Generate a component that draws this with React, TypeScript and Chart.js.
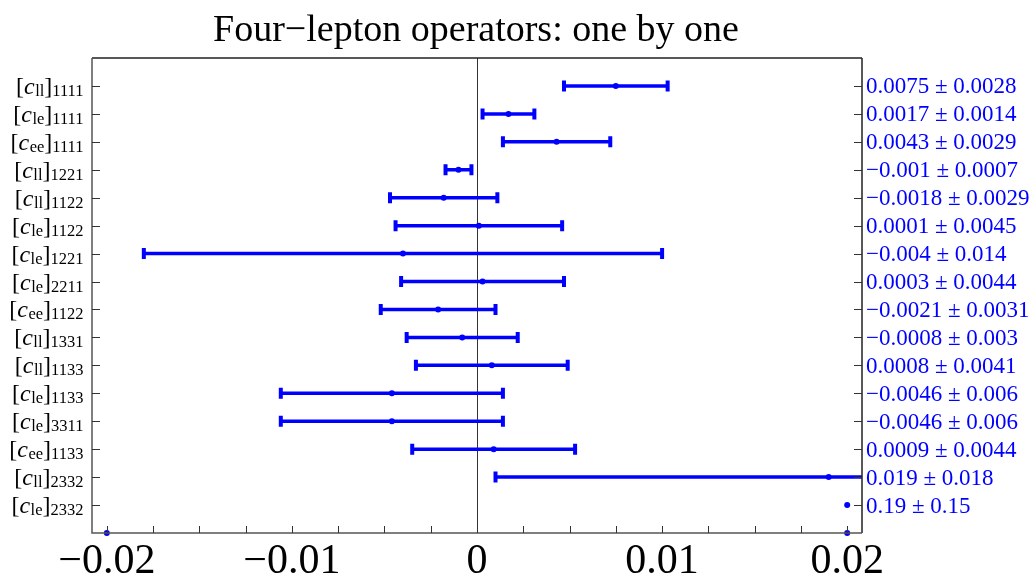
import { useEffect, useRef } from 'react';
import { Chart, registerables } from 'chart.js';

Chart.register(...registerables);

const operatorTypes = ['ll', 'le', 'ee', 'll', 'll', 'le', 'le', 'le', 'ee', 'll', 'll', 'le', 'le', 'ee', 'll', 'le'];
const flavourIndices = ['1111', '1111', '1111', '1221', '1122', '1122', '1221', '2211', '1122', '1331', '1133', '1133', '3311', '1133', '2332', '2332'];
const centralValues = [0.0075, 0.0017, 0.0043, -0.001, -0.0018, 0.0001, -0.004, 0.0003, -0.0021, -0.0008, 0.0008, -0.0046, -0.0046, 0.0009, 0.019, 0.19];
const uncertainties = [0.0028, 0.0014, 0.0029, 0.0007, 0.0029, 0.0045, 0.014, 0.0044, 0.0031, 0.003, 0.0041, 0.006, 0.006, 0.0044, 0.018, 0.15];
// marker positions as drawn in the reference (the off-scale 0.19 point sits at 0.02)
const plottedCenters = [0.0075, 0.0017, 0.0043, -0.001, -0.0018, 0.0001, -0.004, 0.0003, -0.0021, -0.0008, 0.0008, -0.0046, -0.0046, 0.0009, 0.019, 0.02];
const axisMarkers = [-0.02, 0.02];
const xTickValues = [-0.02, -0.01, 0, 0.01, 0.02];
const xTickLabels = ['\u22120.02', '\u22120.01', '0', '0.01', '0.02'];
const minorTickValues = [-0.02, -0.0175, -0.015, -0.0125, -0.01, -0.0075, -0.005, -0.0025, 0, 0.0025, 0.005, 0.0075, 0.01, 0.0125, 0.015, 0.0175, 0.02];
const titleText = 'Four\u2212lepton operators: one by one';

const X_MIN = -0.0208;
const X_MAX = 0.0208;
const SERIF = '"Liberation Serif", "DejaVu Serif", serif';
const BLUE = '#0000ff';

function fmt(v: number): string {
  return String(v).replace('-', '\u2212');
}

const customPlugin = {
  id: 'customDraw',
  beforeDatasetsDraw(chart: any) {
    const { ctx, chartArea: a, scales } = chart;
    const x = scales.x;
    const y = scales.y;
    ctx.save();
    // zero line
    const x0 = Math.round(x.getPixelForValue(0)) + 0.5;
    ctx.strokeStyle = '#333333';
    ctx.lineWidth = 1;
    ctx.beginPath();
    ctx.moveTo(x0, a.top);
    ctx.lineTo(x0, a.bottom);
    ctx.stroke();
    // error bars
    ctx.beginPath();
    ctx.rect(a.left, a.top, a.right - a.left, a.bottom - a.top);
    ctx.clip();
    ctx.strokeStyle = BLUE;
    centralValues.forEach((c, i) => {
      const yy = y.getPixelForValue(i + 1);
      const xl = x.getPixelForValue(c - uncertainties[i]);
      const xr = x.getPixelForValue(c + uncertainties[i]);
      ctx.lineWidth = 3.5;
      ctx.beginPath();
      ctx.moveTo(xl, yy);
      ctx.lineTo(xr, yy);
      ctx.stroke();
      ctx.lineWidth = 4;
      ctx.beginPath();
      ctx.moveTo(xl, yy - 5.5);
      ctx.lineTo(xl, yy + 5.5);
      ctx.moveTo(xr, yy - 5.5);
      ctx.lineTo(xr, yy + 5.5);
      ctx.stroke();
    });
    ctx.restore();
  },
  afterDraw(chart: any) {
    const { ctx, chartArea: a, scales } = chart;
    const x = scales.x;
    const y = scales.y;
    ctx.save();
    // frame
    ctx.lineWidth = 1.5;
    ctx.strokeStyle = '#222222';
    ctx.beginPath();
    ctx.moveTo(a.left, a.top);
    ctx.lineTo(a.right, a.top);
    ctx.moveTo(a.right, a.top);
    ctx.lineTo(a.right, a.bottom);
    ctx.stroke();
    ctx.strokeStyle = '#555555';
    ctx.beginPath();
    ctx.moveTo(a.left, a.top);
    ctx.lineTo(a.left, a.bottom);
    ctx.lineTo(a.right, a.bottom);
    ctx.stroke();
    // ticks
    ctx.lineWidth = 1;
    ctx.strokeStyle = '#333333';
    ctx.beginPath();
    minorTickValues.forEach((v) => {
      const px = Math.round(x.getPixelForValue(v)) + 0.5;
      ctx.moveTo(px, a.bottom);
      ctx.lineTo(px, a.bottom - 7);
    });
    centralValues.forEach((_, i) => {
      const py = Math.round(y.getPixelForValue(i + 1)) + 0.5;
      ctx.moveTo(a.left, py);
      ctx.lineTo(a.left + 8, py);
      ctx.moveTo(a.right, py);
      ctx.lineTo(a.right - 8, py);
    });
    ctx.stroke();

    // x tick labels
    ctx.fillStyle = '#000000';
    ctx.font = `42px ${SERIF}`;
    ctx.textAlign = 'center';
    ctx.textBaseline = 'alphabetic';
    xTickValues.forEach((v, i) => {
      ctx.fillText(xTickLabels[i], x.getPixelForValue(v), 573);
    });

    // left labels
    const mainFont = `24px ${SERIF}`;
    const italicFont = `italic 24px ${SERIF}`;
    const subFont = `16.5px ${SERIF}`;
    ctx.textAlign = 'left';
    operatorTypes.forEach((op, i) => {
      const base = y.getPixelForValue(i + 1) + 8;
      const parts: [string, string, number][] = [
        ['[', mainFont, 0],
        ['c', italicFont, 0],
        [op, subFont, 2],
        [']', mainFont, 0],
        [flavourIndices[i], subFont, 2],
      ];
      let total = 0;
      const widths = parts.map(([t, f]) => {
        ctx.font = f;
        const w = ctx.measureText(t).width;
        total += w;
        return w;
      });
      let cx = a.left - 9 - total;
      parts.forEach(([t, f, dy], k) => {
        ctx.font = f;
        ctx.fillText(t, cx, base + dy);
        cx += widths[k] + (k === 1 ? 0.5 : 0);
      });
    });

    // right labels
    ctx.fillStyle = BLUE;
    ctx.font = `23px ${SERIF}`;
    centralValues.forEach((c, i) => {
      const base = y.getPixelForValue(i + 1) + 7.5;
      ctx.fillText(`${fmt(c)} \u00b1 ${fmt(uncertainties[i])}`, a.right + 4, base);
    });

    // title
    ctx.fillStyle = '#000000';
    ctx.font = `38px ${SERIF}`;
    ctx.textAlign = 'center';
    ctx.fillText(titleText, 476, 41);
    ctx.restore();
  },
};

export default function App() {
  const canvasRef = useRef<HTMLCanvasElement | null>(null);

  useEffect(() => {
    if (!canvasRef.current) return;
    const chart = new Chart(canvasRef.current, {
      type: 'scatter',
      data: {
        datasets: [
          {
            data: plottedCenters.map((v, i) => ({ x: v, y: i + 1 })),
            backgroundColor: BLUE,
            borderColor: BLUE,
            pointRadius: 3,
            pointBorderWidth: 0,
            clip: false,
          },
          {
            data: axisMarkers.map((v) => ({ x: v, y: 17 })),
            backgroundColor: BLUE,
            borderColor: BLUE,
            pointRadius: 3,
            pointBorderWidth: 0,
            clip: false,
          },
        ],
      },
      options: {
        animation: false,
        responsive: true,
        maintainAspectRatio: false,
        layout: { padding: { left: 92, right: 171, top: 58, bottom: 43 } },
        plugins: { legend: { display: false }, tooltip: { enabled: false }, title: { display: false } },
        scales: {
          x: { type: 'linear', min: X_MIN, max: X_MAX, display: false },
          y: { type: 'linear', min: 0, max: 17, reverse: true, display: false },
        },
      },
      plugins: [customPlugin],
    });
    return () => chart.destroy();
  }, []);

  return (
    <div style={{ position: 'fixed', left: 0, top: 0, width: 1033, height: 576, background: '#ffffff' }}>
      <canvas ref={canvasRef} />
    </div>
  );
}
